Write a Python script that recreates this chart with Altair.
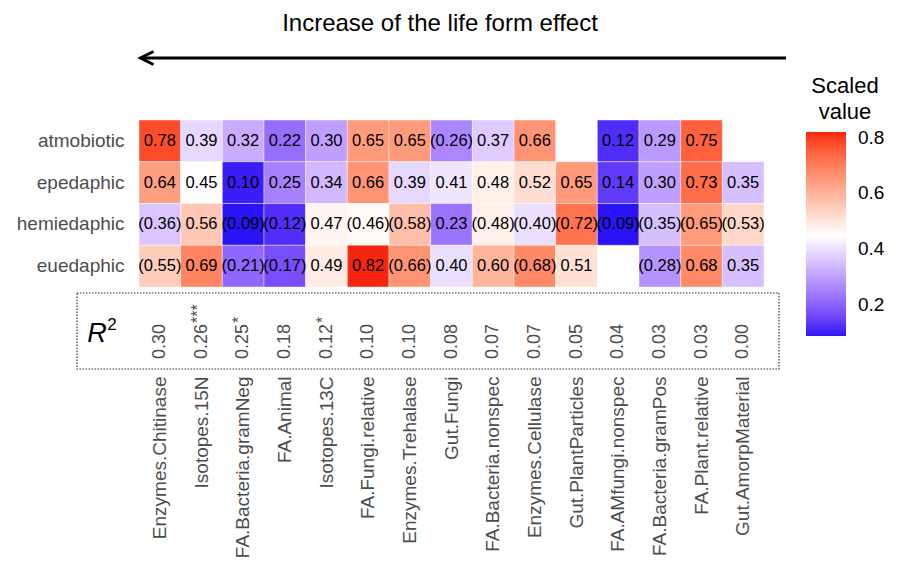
import altair as alt
import pandas as pd

rows = ["atmobiotic", "epedaphic", "hemiedaphic", "euedaphic"]
cols = ["Enzymes.Chitinase", "Isotopes.15N", "FA.Bacteria.gramNeg", "FA.Animal",
        "Isotopes.13C", "FA.Fungi.relative", "Enzymes.Trehalase", "Gut.Fungi",
        "FA.Bacteria.nonspec", "Enzymes.Cellulase", "Gut.PlantParticles",
        "FA.AMfungi.nonspec", "FA.Bacteria.gramPos", "FA.Plant.relative",
        "Gut.AmorpMaterial"]

vals_atmobiotic = [0.78, 0.39, 0.32, 0.22, 0.30, 0.65, 0.65, 0.26, 0.37, 0.66, None, 0.12, 0.29, 0.75, None]
paren_atmobiotic = [0, 0, 0, 0, 0, 0, 0, 1, 0, 0, 0, 0, 0, 0, 0]
vals_epedaphic = [0.64, 0.45, 0.10, 0.25, 0.34, 0.66, 0.39, 0.41, 0.48, 0.52, 0.65, 0.14, 0.30, 0.73, 0.35]
paren_epedaphic = [0, 0, 0, 0, 0, 0, 0, 0, 0, 0, 0, 0, 0, 0, 0]
vals_hemiedaphic = [0.36, 0.56, 0.09, 0.12, 0.47, 0.46, 0.58, 0.23, 0.48, 0.40, 0.72, 0.09, 0.35, 0.65, 0.53]
paren_hemiedaphic = [1, 0, 1, 1, 0, 1, 1, 0, 1, 1, 1, 1, 1, 1, 1]
vals_euedaphic = [0.55, 0.69, 0.21, 0.17, 0.49, 0.82, 0.66, 0.40, 0.60, 0.68, 0.51, None, 0.28, 0.68, 0.35]
paren_euedaphic = [1, 0, 1, 1, 0, 0, 1, 0, 0, 1, 0, 0, 1, 0, 0]

r2_values = ["0.30", "0.26", "0.25", "0.18", "0.12", "0.10", "0.10", "0.08",
             "0.07", "0.07", "0.05", "0.04", "0.03", "0.03", "0.00"]
r2_stars = ["", "***", "*", "", "*", "", "", "", "", "", "", "", "", "", ""]

all_vals = [vals_atmobiotic, vals_epedaphic, vals_hemiedaphic, vals_euedaphic]
all_paren = [paren_atmobiotic, paren_epedaphic, paren_hemiedaphic, paren_euedaphic]

recs = []
for r, vals, pars in zip(rows, all_vals, all_paren):
    for c, v, p in zip(cols, vals, pars):
        if v is None:
            continue
        lab = f"({v:.2f})" if p else f"{v:.2f}"
        recs.append({"row": r, "var": c, "value": v, "label": lab})
df = pd.DataFrame(recs)
r2df = pd.DataFrame({"var": cols, "r2": r2_values, "stars": r2_stars})
deco = alt.Data(values=[{"k": 1}])

FONT = "Liberation Sans"
GREY = "#4d4d4d"

xenc = alt.X("var:N", sort=cols, scale=alt.Scale(paddingInner=0, paddingOuter=0),
             axis=alt.Axis(title=None, labelAngle=-90, labelPadding=89, labelFontSize=19,
                           labelColor=GREY, ticks=False, domain=False, labelLimit=0))
yenc = alt.Y("row:N", sort=rows, scale=alt.Scale(paddingInner=0, paddingOuter=0),
             axis=alt.Axis(title=None, labelPadding=15, labelFontSize=19, labelColor=GREY,
                           ticks=False, domain=False))

color = alt.Color("value:Q",
                  scale=alt.Scale(domain=[0.09, 0.45, 0.82],
                                  range=["#2a14f6", "#ffffff", "#f6260e"],
                                  interpolate="lab"),
                  legend=alt.Legend(title=["Scaled", "value"], orient="none",
                                    legendX=667, legendY=-44, direction="vertical",
                                    gradientLength=204, gradientThickness=40,
                                    gradientStrokeWidth=0,
                                    values=[0.2, 0.4, 0.6, 0.8], format=".1f",
                                    labelFontSize=19, labelColor="black", labelOffset=12,
                                    labelOverlap=False,
                                    titleFontSize=22, titleFontWeight="normal",
                                    titleColor="black", titleAlign="center",
                                    titleAnchor="middle", titleLineHeight=26,
                                    titlePadding=8))

base = alt.Chart(df)
rect = base.mark_rect(stroke="white", strokeWidth=0.6, strokeOpacity=0.7).encode(
    x=xenc, y=yenc, color=color)
txt = base.mark_text(fontSize=16.5, color="black").encode(x=xenc, y=yenc, text="label:N")

r2x = alt.X("var:N", sort=cols)
r2txt = alt.Chart(r2df).mark_text(angle=270, align="left", baseline="middle",
                                  fontSize=18, color=GREY).encode(
    x=r2x, y=alt.value(239), text="r2:N")
r2star = alt.Chart(r2df).transform_filter("datum.stars != ''").mark_text(
    angle=270, align="left", baseline="middle", fontSize=16, color=GREY,
    dx=36, dy=-4).encode(x=r2x, y=alt.value(239), text="stars:N")

box = alt.Chart(deco).mark_rect(fill=None, stroke="#333333", strokeWidth=1.2,
                                strokeDash=[1.5, 1.5]).encode(
    x=alt.value(-62), x2=alt.value(640), y=alt.value(173), y2=alt.value(249))
rlab = alt.Chart(deco).mark_text(text="R", fontSize=27, fontStyle="italic",
                                 color="black", align="center", baseline="middle").encode(
    x=alt.value(-42), y=alt.value(214))
rsup = alt.Chart(deco).mark_text(text="2", fontSize=17, color="black",
                                 align="center", baseline="middle").encode(
    x=alt.value(-27), y=alt.value(205))

title = alt.Chart(deco).mark_text(text="Increase of the life form effect", fontSize=24,
                                  color="black", align="center",
                                  baseline="alphabetic").encode(
    x=alt.value(301), y=alt.value(-89))
arrow = alt.Chart(deco).mark_rule(strokeWidth=3, color="black").encode(
    x=alt.value(1), x2=alt.value(647), y=alt.value(-62))
head = alt.Chart(deco).mark_point(shape="M1,-1 L-1,0 L1,1", size=170, filled=False,
                                  strokeWidth=3, color="black", opacity=1).encode(
    x=alt.value(8), y=alt.value(-62))

chart = alt.layer(rect, txt, r2txt, r2star, box, rlab, rsup, title, arrow, head).properties(
    width=625, height=167,
    padding={"left": 8, "top": 4, "right": 5, "bottom": 0}
).configure(font=FONT).configure_view(stroke=None)

chart.save("out.html", embed_options={"renderer": "svg", "actions": False})
